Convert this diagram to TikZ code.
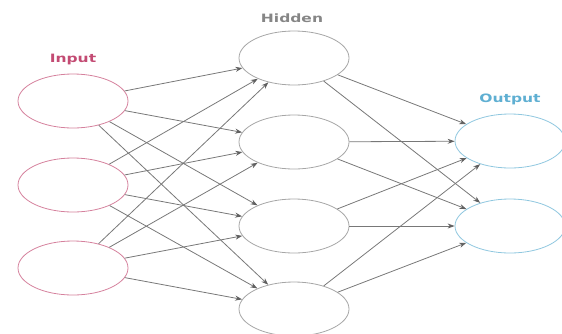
\documentclass[tikz,border=0pt]{standalone}
\usepackage{amsmath}
\usepackage{amsfonts}
\usepackage{fontspec}
\setmainfont{DejaVu Sans}
\usepackage{tikz}
\usetikzlibrary{arrows.meta,shapes.geometric}
\usepackage{color}
\definecolor{inred}{RGB}{195,75,115}
\definecolor{outblue}{RGB}{95,175,210}
\definecolor{hidgray}{RGB}{120,120,120}
\tikzset{lbl/.style={font=\bfseries\fontsize{11.5}{14}\selectfont,xscale=1.35}}

\begin{document}
\begin{tikzpicture}[x=1pt,y=-1pt]
\useasboundingbox (0,0) rectangle (562,333);
\begin{scope}[every node/.style={ellipse,draw,thick,minimum width=110pt,minimum height=54pt}]
    \node[draw=inred!70] (I1) at (73,101) {};
    \node[draw=inred!70] (I2) at (73,185) {};
    \node[draw=inred!70] (I3) at (73,268) {};
    \node[draw=black!35] (H1) at (294,58) {};
    \node[draw=black!35] (H2) at (294,142) {};
    \node[draw=black!35] (H3) at (294,226) {};
    \node[draw=black!35] (H4) at (294,309) {};
    \node[draw=outblue!70] (O1) at (510,141) {};
    \node[draw=outblue!70] (O2) at (510,226) {};
\end{scope}

\begin{scope}[>={Stealth[length=7pt,width=5pt,hidgray!80!black]},
              every edge/.style={draw=hidgray,line width=0.8pt}]
    \path [->] (I1) edge (H1);
    \path [->] (I1) edge (H2);
    \path [->] (I1) edge (H3);
    \path [->] (I1) edge (H4);
    \path [->] (I2) edge (H1);
    \path [->] (I2) edge (H2);
    \path [->] (I2) edge (H3);
    \path [->] (I2) edge (H4);
    \path [->] (I3) edge (H1);
    \path [->] (I3) edge (H2);
    \path [->] (I3) edge (H3);
    \path [->] (I3) edge (H4);
    \path [->] (H1) edge (O1);
    \path [->] (H1) edge (O2);
    \path [->] (H2) edge (O1);
    \path [->] (H2) edge (O2);
    \path [->] (H3) edge (O1);
    \path [->] (H3) edge (O2);
    \path [->] (H4) edge (O1);
    \path [->] (H4) edge (O2);
\end{scope}
\node[lbl,text=inred] (lin) at (73,59) {Input};
\node[lbl,text=hidgray!90] (lhid) at (292,18) {Hidden};
\node[lbl,text=outblue] (lout) at (510,99) {Output};
\end{tikzpicture}
\end{document}
